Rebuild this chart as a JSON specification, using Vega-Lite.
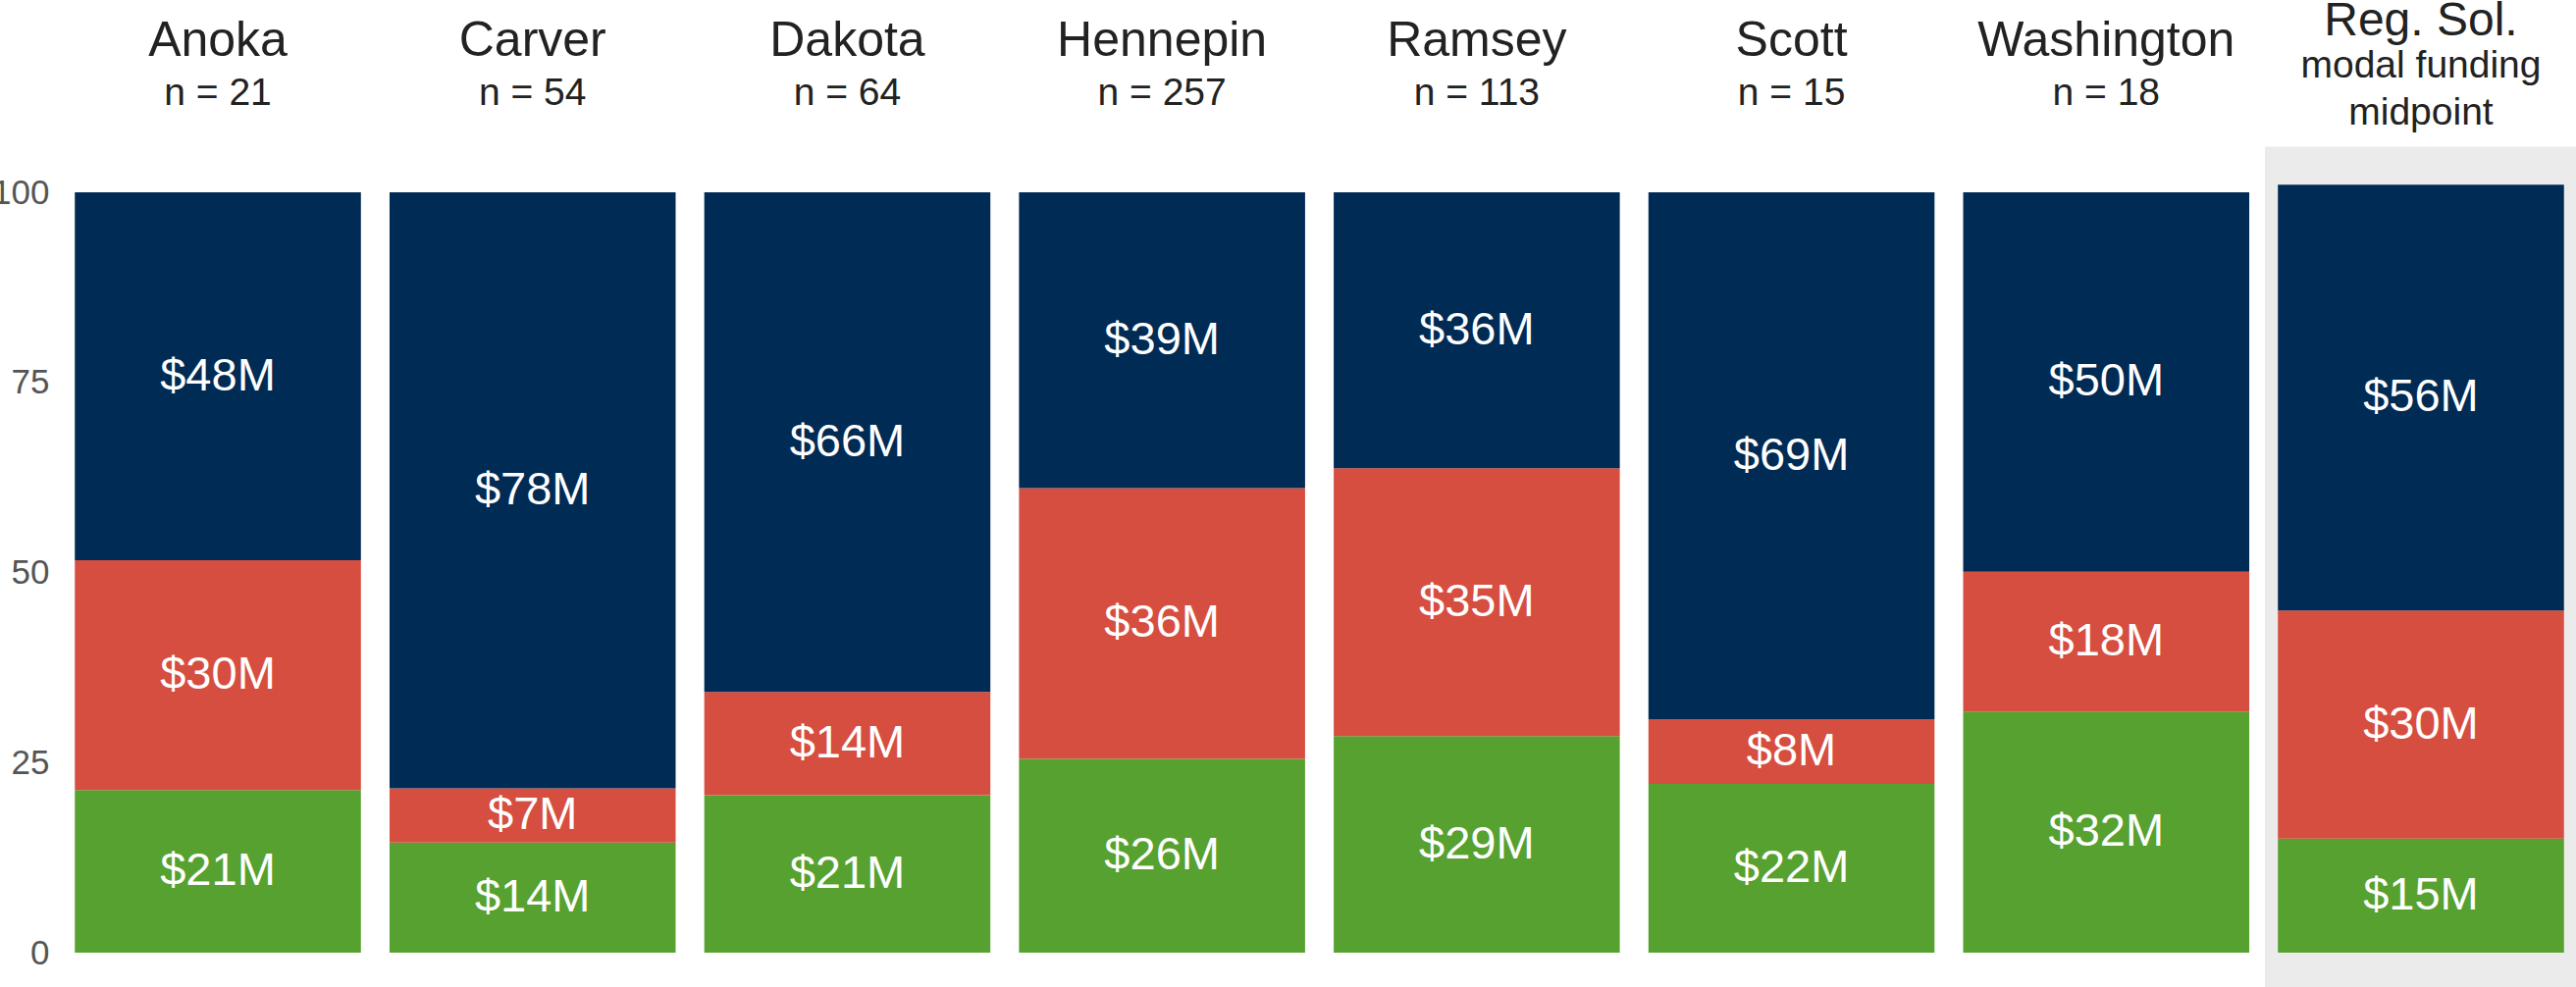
{
  "$schema": "https://vega.github.io/schema/vega-lite/v6.json",
  "autosize": "none",
  "width": 2549,
  "height": 775,
  "padding": {"left": 70, "top": 196, "right": 6, "bottom": 35},
  "background": "white",
  "config": {"view": {"stroke": null}, "font": "Liberation Sans"},
  "datasets": {
    "segments": [
      {"county": "Anoka", "category": "c1", "value": 21.4, "label": "$21M"},
      {"county": "Anoka", "category": "c2", "value": 30.2, "label": "$30M"},
      {"county": "Anoka", "category": "c3", "value": 48.4, "label": "$48M"},
      {"county": "Carver", "category": "c1", "value": 14.5, "label": "$14M"},
      {"county": "Carver", "category": "c2", "value": 7.1, "label": "$7M"},
      {"county": "Carver", "category": "c3", "value": 78.4, "label": "$78M"},
      {"county": "Dakota", "category": "c1", "value": 20.7, "label": "$21M"},
      {"county": "Dakota", "category": "c2", "value": 13.6, "label": "$14M"},
      {"county": "Dakota", "category": "c3", "value": 65.7, "label": "$66M"},
      {"county": "Hennepin", "category": "c1", "value": 25.5, "label": "$26M"},
      {"county": "Hennepin", "category": "c2", "value": 35.6, "label": "$36M"},
      {"county": "Hennepin", "category": "c3", "value": 38.9, "label": "$39M"},
      {"county": "Ramsey", "category": "c1", "value": 28.5, "label": "$29M"},
      {"county": "Ramsey", "category": "c2", "value": 35.2, "label": "$35M"},
      {"county": "Ramsey", "category": "c3", "value": 36.3, "label": "$36M"},
      {"county": "Scott", "category": "c1", "value": 22.2, "label": "$22M"},
      {"county": "Scott", "category": "c2", "value": 8.5, "label": "$8M"},
      {"county": "Scott", "category": "c3", "value": 69.3, "label": "$69M"},
      {"county": "Washington", "category": "c1", "value": 31.7, "label": "$32M"},
      {"county": "Washington", "category": "c2", "value": 18.4, "label": "$18M"},
      {"county": "Washington", "category": "c3", "value": 49.9, "label": "$50M"},
      {"county": "Reg. Sol.", "category": "c1", "value": 15, "label": "$15M"},
      {"county": "Reg. Sol.", "category": "c2", "value": 30, "label": "$30M"},
      {"county": "Reg. Sol.", "category": "c3", "value": 56, "label": "$56M"}
    ],
    "headers": [
      {"county": "Anoka", "title": "Anoka", "sub": "n = 21"},
      {"county": "Carver", "title": "Carver", "sub": "n = 54"},
      {"county": "Dakota", "title": "Dakota", "sub": "n = 64"},
      {"county": "Hennepin", "title": "Hennepin", "sub": "n = 257"},
      {"county": "Ramsey", "title": "Ramsey", "sub": "n = 113"},
      {"county": "Scott", "title": "Scott", "sub": "n = 15"},
      {"county": "Washington", "title": "Washington", "sub": "n = 18"},
      {"county": "Reg. Sol.", "title": "Reg. Sol.", "sub": ["modal funding", "midpoint"]}
    ]
  },
  "encoding": {
    "x": {
      "field": "county",
      "type": "nominal",
      "sort": ["Anoka", "Carver", "Dakota", "Hennepin", "Ramsey", "Scott", "Washington", "Reg. Sol."],
      "scale": {"paddingInner": 0.091, "paddingOuter": 0.0195},
      "axis": null
    }
  },
  "layer": [
    {
      "data": {"name": "headers"},
      "transform": [{"filter": "datum.county === 'Reg. Sol.'"}],
      "mark": {"type": "bar", "color": "#EBEBEB", "width": {"band": 1.091}, "clip": false},
      "encoding": {
        "y": {"datum": 106, "type": "quantitative", "title": null},
        "y2": {"datum": -4.5}
      }
    },
    {
      "data": {"name": "segments"},
      "transform": [
        {"stack": "value", "groupby": ["county"], "sort": [{"field": "category", "order": "ascending"}], "as": ["y0", "y1"]}
      ],
      "mark": {"type": "bar", "clip": false},
      "encoding": {
        "y": {
          "field": "y1",
          "type": "quantitative",
          "title": null,
          "scale": {"domain": [0, 100], "nice": false, "zero": true},
          "axis": {
            "values": [0, 25, 50, 75, 100],
            "domain": false,
            "ticks": false,
            "grid": false,
            "labelFontSize": 35,
            "labelColor": "#555555",
            "labelPadding": 20,
            "labelFont": "Liberation Sans"
          }
        },
        "y2": {"field": "y0"},
        "color": {
          "field": "category",
          "type": "nominal",
          "scale": {"domain": ["c1", "c2", "c3"], "range": ["#57A130", "#D64E3F", "#002B55"]},
          "legend": null
        }
      }
    },
    {
      "data": {"name": "segments"},
      "transform": [
        {"stack": "value", "groupby": ["county"], "sort": [{"field": "category", "order": "ascending"}], "as": ["y0", "y1"]},
        {"fold": ["y0", "y1"], "as": ["edge", "pos"]}
      ],
      "mark": {"type": "text", "color": "white", "fontSize": 47, "baseline": "middle", "align": "center", "font": "Liberation Sans"},
      "encoding": {
        "y": {"aggregate": "mean", "field": "pos", "type": "quantitative", "title": null},
        "text": {"field": "label", "type": "nominal"},
        "detail": {"field": "category", "type": "nominal"}
      }
    },
    {
      "data": {"name": "headers"},
      "transform": [{"filter": "datum.county !== 'Reg. Sol.'"}],
      "mark": {"type": "text", "color": "#222222", "fontSize": 50, "baseline": "alphabetic", "align": "center", "font": "Liberation Sans"},
      "encoding": {
        "y": {"datum": 118.0, "type": "quantitative", "title": null},
        "text": {"field": "title", "type": "nominal"}
      }
    },
    {
      "data": {"name": "headers"},
      "transform": [{"filter": "datum.county !== 'Reg. Sol.'"}],
      "mark": {"type": "text", "color": "#222222", "fontSize": 39, "baseline": "alphabetic", "align": "center", "font": "Liberation Sans"},
      "encoding": {
        "y": {"datum": 111.5, "type": "quantitative", "title": null},
        "text": {"field": "sub", "type": "nominal"}
      }
    },
    {
      "data": {"name": "headers"},
      "transform": [{"filter": "datum.county === 'Reg. Sol.'"}],
      "mark": {"type": "text", "color": "#222222", "fontSize": 48, "baseline": "alphabetic", "align": "center", "font": "Liberation Sans"},
      "encoding": {
        "y": {"datum": 120.6, "type": "quantitative", "title": null},
        "text": {"field": "title", "type": "nominal"}
      }
    },
    {
      "data": {"name": "headers"},
      "transform": [{"filter": "datum.county === 'Reg. Sol.'"}],
      "mark": {"type": "text", "color": "#222222", "fontSize": 39, "lineHeight": 48, "baseline": "alphabetic", "align": "center", "font": "Liberation Sans"},
      "encoding": {
        "y": {"datum": 115.1, "type": "quantitative", "title": null},
        "text": {"field": "sub"}
      }
    }
  ]
}
